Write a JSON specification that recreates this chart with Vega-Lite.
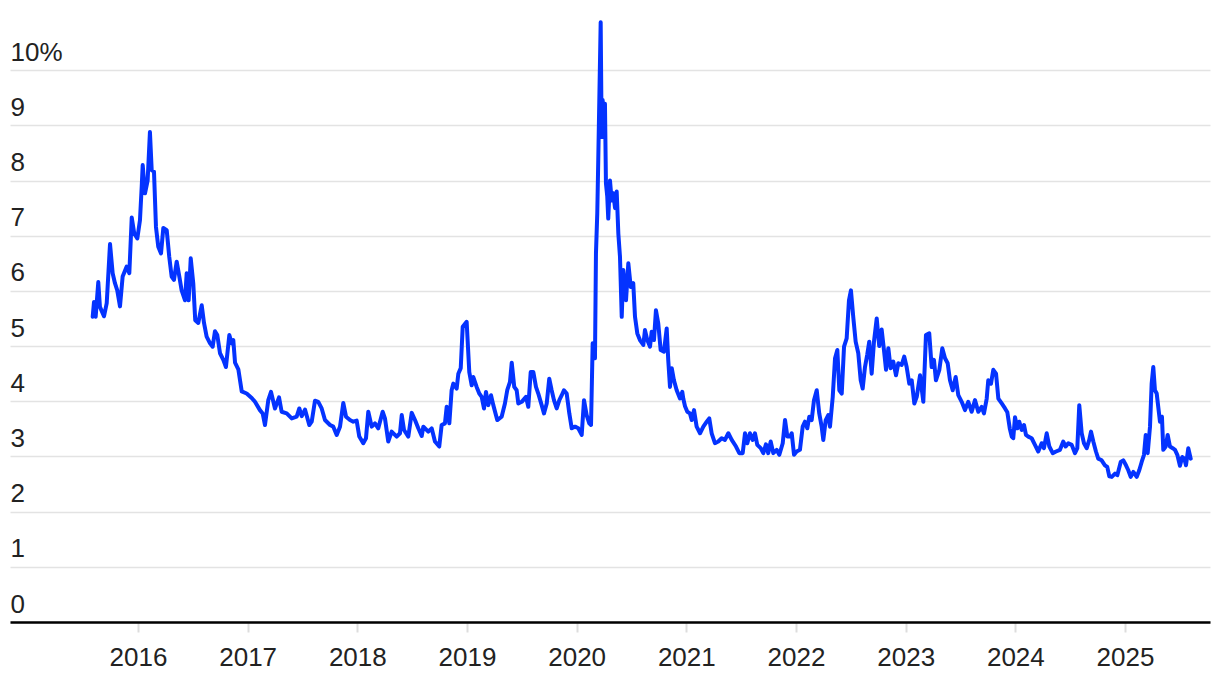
{
  "$schema": "https://vega.github.io/schema/vega-lite/v6.json",
  "width": 1200,
  "height": 607,
  "autosize": {"type": "none"},
  "padding": {"left": 10, "right": 10, "top": 15, "bottom": 58},
  "background": "white",
  "config": {"view": {"stroke": null}},
  "data": {"values": [
    {"t":2015.587,"v":5.53},{"t":2015.599,"v":5.80},{"t":2015.614,"v":5.53},{"t":2015.638,"v":6.16},{"t":2015.653,"v":5.71},
    {"t":2015.690,"v":5.54},{"t":2015.715,"v":5.78},{"t":2015.745,"v":6.85},{"t":2015.769,"v":6.32},{"t":2015.790,"v":6.14},
    {"t":2015.811,"v":6.01},{"t":2015.836,"v":5.72},{"t":2015.860,"v":6.26},{"t":2015.897,"v":6.44},{"t":2015.921,"v":6.32},
    {"t":2015.943,"v":7.33},{"t":2015.966,"v":7.04},{"t":2015.994,"v":6.95},{"t":2016.018,"v":7.28},{"t":2016.034,"v":7.89},
    {"t":2016.043,"v":8.28},{"t":2016.064,"v":7.77},{"t":2016.088,"v":8.00},{"t":2016.109,"v":8.88},{"t":2016.125,"v":8.19},
    {"t":2016.146,"v":8.16},{"t":2016.164,"v":7.16},{"t":2016.185,"v":6.80},{"t":2016.210,"v":6.68},{"t":2016.231,"v":7.14},
    {"t":2016.262,"v":7.10},{"t":2016.285,"v":6.62},{"t":2016.307,"v":6.26},{"t":2016.328,"v":6.20},{"t":2016.353,"v":6.53},
    {"t":2016.377,"v":6.26},{"t":2016.398,"v":6.01},{"t":2016.429,"v":5.83},{"t":2016.444,"v":6.32},{"t":2016.462,"v":5.83},
    {"t":2016.481,"v":6.59},{"t":2016.504,"v":6.14},{"t":2016.522,"v":5.47},{"t":2016.550,"v":5.42},{"t":2016.581,"v":5.74},
    {"t":2016.602,"v":5.42},{"t":2016.626,"v":5.17},{"t":2016.657,"v":5.05},{"t":2016.681,"v":4.99},{"t":2016.702,"v":5.27},
    {"t":2016.723,"v":5.20},{"t":2016.748,"v":4.87},{"t":2016.778,"v":4.75},{"t":2016.802,"v":4.62},{"t":2016.833,"v":5.20},
    {"t":2016.854,"v":5.05},{"t":2016.869,"v":5.11},{"t":2016.885,"v":4.70},{"t":2016.915,"v":4.58},{"t":2016.946,"v":4.18},
    {"t":2016.991,"v":4.14},{"t":2017.037,"v":4.06},{"t":2017.067,"v":3.99},{"t":2017.112,"v":3.84},{"t":2017.137,"v":3.78},
    {"t":2017.158,"v":3.57},{"t":2017.188,"v":4.02},{"t":2017.213,"v":4.17},{"t":2017.249,"v":3.87},{"t":2017.286,"v":4.07},
    {"t":2017.310,"v":3.81},{"t":2017.356,"v":3.78},{"t":2017.402,"v":3.69},{"t":2017.447,"v":3.72},{"t":2017.471,"v":3.87},
    {"t":2017.493,"v":3.73},{"t":2017.523,"v":3.85},{"t":2017.562,"v":3.57},{"t":2017.584,"v":3.63},{"t":2017.614,"v":4.01},
    {"t":2017.644,"v":3.99},{"t":2017.675,"v":3.87},{"t":2017.705,"v":3.66},{"t":2017.751,"v":3.57},{"t":2017.781,"v":3.54},
    {"t":2017.812,"v":3.39},{"t":2017.842,"v":3.54},{"t":2017.872,"v":3.97},{"t":2017.897,"v":3.72},{"t":2017.933,"v":3.66},
    {"t":2017.963,"v":3.63},{"t":2017.994,"v":3.65},{"t":2018.018,"v":3.36},{"t":2018.054,"v":3.24},{"t":2018.079,"v":3.33},
    {"t":2018.100,"v":3.81},{"t":2018.131,"v":3.54},{"t":2018.161,"v":3.60},{"t":2018.191,"v":3.51},{"t":2018.231,"v":3.81},
    {"t":2018.252,"v":3.69},{"t":2018.282,"v":3.27},{"t":2018.313,"v":3.45},{"t":2018.359,"v":3.36},{"t":2018.389,"v":3.42},
    {"t":2018.405,"v":3.75},{"t":2018.426,"v":3.48},{"t":2018.465,"v":3.36},{"t":2018.496,"v":3.79},{"t":2018.526,"v":3.66},
    {"t":2018.556,"v":3.51},{"t":2018.587,"v":3.37},{"t":2018.602,"v":3.54},{"t":2018.647,"v":3.45},{"t":2018.678,"v":3.51},
    {"t":2018.708,"v":3.27},{"t":2018.747,"v":3.18},{"t":2018.769,"v":3.57},{"t":2018.799,"v":3.60},{"t":2018.815,"v":3.90},
    {"t":2018.839,"v":3.60},{"t":2018.860,"v":4.20},{"t":2018.875,"v":4.32},{"t":2018.906,"v":4.23},{"t":2018.921,"v":4.50},
    {"t":2018.943,"v":4.60},{"t":2018.961,"v":5.35},{"t":2018.997,"v":5.44},{"t":2019.021,"v":4.53},{"t":2019.043,"v":4.29},
    {"t":2019.057,"v":4.44},{"t":2019.088,"v":4.26},{"t":2019.112,"v":4.14},{"t":2019.134,"v":4.08},{"t":2019.155,"v":3.87},
    {"t":2019.173,"v":4.17},{"t":2019.194,"v":3.93},{"t":2019.219,"v":4.11},{"t":2019.240,"v":3.93},{"t":2019.276,"v":3.66},
    {"t":2019.316,"v":3.72},{"t":2019.346,"v":3.96},{"t":2019.367,"v":4.20},{"t":2019.392,"v":4.35},{"t":2019.408,"v":4.70},
    {"t":2019.431,"v":4.26},{"t":2019.453,"v":4.20},{"t":2019.468,"v":3.96},{"t":2019.499,"v":3.99},{"t":2019.538,"v":4.08},
    {"t":2019.559,"v":3.90},{"t":2019.581,"v":4.53},{"t":2019.605,"v":4.53},{"t":2019.629,"v":4.26},{"t":2019.650,"v":4.14},
    {"t":2019.681,"v":3.93},{"t":2019.702,"v":3.78},{"t":2019.727,"v":3.96},{"t":2019.750,"v":4.41},{"t":2019.772,"v":4.20},
    {"t":2019.793,"v":4.02},{"t":2019.818,"v":3.87},{"t":2019.842,"v":4.02},{"t":2019.864,"v":4.11},{"t":2019.884,"v":4.20},
    {"t":2019.909,"v":4.14},{"t":2019.933,"v":3.78},{"t":2019.955,"v":3.51},{"t":2019.985,"v":3.54},{"t":2020.015,"v":3.51},
    {"t":2020.046,"v":3.39},{"t":2020.067,"v":4.02},{"t":2020.091,"v":3.75},{"t":2020.115,"v":3.60},{"t":2020.131,"v":3.57},
    {"t":2020.146,"v":5.05},{"t":2020.158,"v":4.95},{"t":2020.167,"v":4.78},{"t":2020.176,"v":6.68},{"t":2020.188,"v":7.41},
    {"t":2020.197,"v":8.37},{"t":2020.219,"v":10.87},{"t":2020.228,"v":8.79},{"t":2020.237,"v":9.46},{"t":2020.249,"v":8.79},
    {"t":2020.258,"v":9.39},{"t":2020.267,"v":7.95},{"t":2020.279,"v":7.71},{"t":2020.288,"v":7.31},{"t":2020.304,"v":8.00},
    {"t":2020.319,"v":7.64},{"t":2020.334,"v":7.77},{"t":2020.350,"v":7.50},{"t":2020.365,"v":7.80},{"t":2020.380,"v":7.04},
    {"t":2020.395,"v":6.62},{"t":2020.411,"v":5.53},{"t":2020.425,"v":6.38},{"t":2020.450,"v":5.83},{"t":2020.471,"v":6.50},
    {"t":2020.493,"v":6.07},{"t":2020.516,"v":6.14},{"t":2020.532,"v":5.53},{"t":2020.553,"v":5.23},{"t":2020.577,"v":5.11},
    {"t":2020.608,"v":5.02},{"t":2020.623,"v":5.29},{"t":2020.644,"v":5.11},{"t":2020.669,"v":4.99},{"t":2020.684,"v":5.26},
    {"t":2020.705,"v":5.11},{"t":2020.723,"v":5.65},{"t":2020.744,"v":5.41},{"t":2020.766,"v":4.93},{"t":2020.796,"v":4.90},
    {"t":2020.821,"v":5.32},{"t":2020.835,"v":4.75},{"t":2020.851,"v":4.26},{"t":2020.867,"v":4.60},{"t":2020.887,"v":4.38},
    {"t":2020.912,"v":4.20},{"t":2020.942,"v":4.05},{"t":2020.963,"v":4.17},{"t":2020.972,"v":4.05},{"t":2020.988,"v":3.91},
    {"t":2021.009,"v":3.81},{"t":2021.033,"v":3.78},{"t":2021.049,"v":3.66},{"t":2021.070,"v":3.84},{"t":2021.094,"v":3.54},
    {"t":2021.125,"v":3.42},{"t":2021.155,"v":3.54},{"t":2021.186,"v":3.63},{"t":2021.209,"v":3.69},{"t":2021.231,"v":3.42},
    {"t":2021.261,"v":3.24},{"t":2021.291,"v":3.27},{"t":2021.322,"v":3.33},{"t":2021.352,"v":3.30},{"t":2021.383,"v":3.42},
    {"t":2021.414,"v":3.30},{"t":2021.453,"v":3.18},{"t":2021.483,"v":3.06},{"t":2021.514,"v":3.06},{"t":2021.535,"v":3.42},
    {"t":2021.556,"v":3.24},{"t":2021.580,"v":3.42},{"t":2021.605,"v":3.30},{"t":2021.626,"v":3.42},{"t":2021.647,"v":3.21},
    {"t":2021.678,"v":3.15},{"t":2021.702,"v":3.06},{"t":2021.726,"v":3.22},{"t":2021.747,"v":3.06},{"t":2021.769,"v":3.27},
    {"t":2021.793,"v":3.06},{"t":2021.824,"v":3.12},{"t":2021.848,"v":3.03},{"t":2021.879,"v":3.24},{"t":2021.900,"v":3.66},
    {"t":2021.921,"v":3.36},{"t":2021.945,"v":3.36},{"t":2021.961,"v":3.42},{"t":2021.982,"v":3.03},{"t":2022.006,"v":3.09},
    {"t":2022.036,"v":3.12},{"t":2022.061,"v":3.54},{"t":2022.082,"v":3.63},{"t":2022.103,"v":3.51},{"t":2022.121,"v":3.72},
    {"t":2022.143,"v":3.66},{"t":2022.164,"v":4.02},{"t":2022.189,"v":4.20},{"t":2022.212,"v":3.78},{"t":2022.234,"v":3.54},
    {"t":2022.249,"v":3.30},{"t":2022.271,"v":3.66},{"t":2022.294,"v":3.75},{"t":2022.310,"v":3.54},{"t":2022.335,"v":4.08},
    {"t":2022.356,"v":4.78},{"t":2022.377,"v":4.93},{"t":2022.395,"v":4.20},{"t":2022.417,"v":4.14},{"t":2022.438,"v":4.99},
    {"t":2022.462,"v":5.14},{"t":2022.483,"v":5.83},{"t":2022.501,"v":6.01},{"t":2022.522,"v":5.53},{"t":2022.544,"v":5.08},
    {"t":2022.568,"v":4.87},{"t":2022.590,"v":4.38},{"t":2022.608,"v":4.23},{"t":2022.629,"v":4.62},{"t":2022.650,"v":4.85},
    {"t":2022.668,"v":5.08},{"t":2022.690,"v":4.50},{"t":2022.711,"v":5.08},{"t":2022.736,"v":5.50},{"t":2022.759,"v":5.00},
    {"t":2022.781,"v":5.30},{"t":2022.802,"v":4.93},{"t":2022.821,"v":4.57},{"t":2022.842,"v":4.96},{"t":2022.863,"v":4.60},
    {"t":2022.887,"v":4.72},{"t":2022.912,"v":4.47},{"t":2022.933,"v":4.69},{"t":2022.964,"v":4.66},{"t":2022.987,"v":4.81},
    {"t":2023.009,"v":4.62},{"t":2023.033,"v":4.32},{"t":2023.055,"v":4.38},{"t":2023.079,"v":3.96},{"t":2023.101,"v":4.08},
    {"t":2023.131,"v":4.47},{"t":2023.161,"v":3.99},{"t":2023.185,"v":5.20},{"t":2023.215,"v":5.23},{"t":2023.237,"v":4.62},
    {"t":2023.258,"v":4.75},{"t":2023.276,"v":4.38},{"t":2023.307,"v":4.57},{"t":2023.334,"v":4.96},{"t":2023.359,"v":4.78},
    {"t":2023.383,"v":4.69},{"t":2023.404,"v":4.38},{"t":2023.429,"v":4.20},{"t":2023.456,"v":4.44},{"t":2023.480,"v":4.11},
    {"t":2023.511,"v":3.99},{"t":2023.541,"v":3.84},{"t":2023.571,"v":3.99},{"t":2023.602,"v":3.81},{"t":2023.632,"v":4.02},
    {"t":2023.662,"v":3.81},{"t":2023.693,"v":3.90},{"t":2023.714,"v":3.78},{"t":2023.739,"v":4.05},{"t":2023.753,"v":4.38},
    {"t":2023.778,"v":4.32},{"t":2023.799,"v":4.57},{"t":2023.824,"v":4.50},{"t":2023.845,"v":4.05},{"t":2023.876,"v":3.96},
    {"t":2023.906,"v":3.87},{"t":2023.927,"v":3.80},{"t":2023.950,"v":3.50},{"t":2023.967,"v":3.36},{"t":2023.981,"v":3.33},
    {"t":2023.997,"v":3.71},{"t":2024.018,"v":3.51},{"t":2024.036,"v":3.63},{"t":2024.058,"v":3.48},{"t":2024.079,"v":3.57},
    {"t":2024.097,"v":3.39},{"t":2024.118,"v":3.36},{"t":2024.149,"v":3.33},{"t":2024.179,"v":3.21},{"t":2024.209,"v":3.09},
    {"t":2024.240,"v":3.24},{"t":2024.261,"v":3.15},{"t":2024.286,"v":3.42},{"t":2024.310,"v":3.18},{"t":2024.341,"v":3.06},
    {"t":2024.371,"v":3.09},{"t":2024.407,"v":3.12},{"t":2024.437,"v":3.27},{"t":2024.459,"v":3.18},{"t":2024.483,"v":3.24},
    {"t":2024.514,"v":3.21},{"t":2024.544,"v":3.06},{"t":2024.565,"v":3.15},{"t":2024.583,"v":3.93},{"t":2024.605,"v":3.42},
    {"t":2024.626,"v":3.24},{"t":2024.651,"v":3.15},{"t":2024.674,"v":3.30},{"t":2024.690,"v":3.45},{"t":2024.711,"v":3.27},
    {"t":2024.735,"v":3.09},{"t":2024.756,"v":2.96},{"t":2024.787,"v":2.93},{"t":2024.817,"v":2.84},{"t":2024.838,"v":2.81},
    {"t":2024.857,"v":2.64},{"t":2024.879,"v":2.63},{"t":2024.909,"v":2.69},{"t":2024.930,"v":2.66},{"t":2024.961,"v":2.90},
    {"t":2024.984,"v":2.93},{"t":2025.009,"v":2.84},{"t":2025.030,"v":2.75},{"t":2025.052,"v":2.63},{"t":2025.076,"v":2.72},
    {"t":2025.107,"v":2.63},{"t":2025.130,"v":2.75},{"t":2025.152,"v":2.90},{"t":2025.173,"v":3.03},{"t":2025.189,"v":3.39},
    {"t":2025.207,"v":3.06},{"t":2025.228,"v":3.54},{"t":2025.243,"v":4.32},{"t":2025.258,"v":4.62},{"t":2025.273,"v":4.20},
    {"t":2025.289,"v":4.14},{"t":2025.303,"v":3.90},{"t":2025.319,"v":3.63},{"t":2025.337,"v":3.72},{"t":2025.349,"v":3.12},
    {"t":2025.371,"v":3.18},{"t":2025.389,"v":3.39},{"t":2025.410,"v":3.18},{"t":2025.435,"v":3.15},{"t":2025.456,"v":3.12},
    {"t":2025.477,"v":3.03},{"t":2025.501,"v":2.83},{"t":2025.522,"v":2.99},{"t":2025.541,"v":2.96},{"t":2025.556,"v":2.84},
    {"t":2025.577,"v":3.15},{"t":2025.599,"v":2.96}
  ]},
  "mark": {"type": "line", "color": "#0433ff", "strokeWidth": 4, "strokeJoin": "round", "strokeCap": "round"},
  "encoding": {
    "x": {
      "field": "t", "type": "quantitative",
      "scale": {"domain": [2014.833, 2025.775], "nice": false, "zero": false},
      "axis": {
        "title": null, "values": [2016,2017,2018,2019,2020,2021,2022,2023,2024,2025], "format": "d",
        "grid": false, "domainColor": "#000000", "domainWidth": 2.5,
        "ticks": true, "tickColor": "#dddddd", "tickWidth": 2, "tickSize": 10,
        "labelFont": "Liberation Sans", "labelFontSize": 26, "labelColor": "#222222",
        "labelBaseline": "alphabetic", "labelPadding": 33, "labelFlush": false, "labelOverlap": false
      }
    },
    "y": {
      "field": "v", "type": "quantitative",
      "scale": {"domain": [0, 11], "nice": false, "zero": true},
      "axis": {
        "title": null, "values": [0,1,2,3,4,5,6,7,8,9,10],
        "labelExpr": "datum.value == 10 ? '10%' : datum.label",
        "domain": false, "ticks": false, "tickSize": 0,
        "grid": true, "gridColor": "#e3e3e3", "gridWidth": 1.5,
        "labelAlign": "left", "labelBaseline": "alphabetic", "labelPadding": 0, "labelOffset": -10,
        "labelFont": "Liberation Sans", "labelFontSize": 26, "labelColor": "#222222", "labelFlush": false, "labelOverlap": false
      }
    }
  }
}
